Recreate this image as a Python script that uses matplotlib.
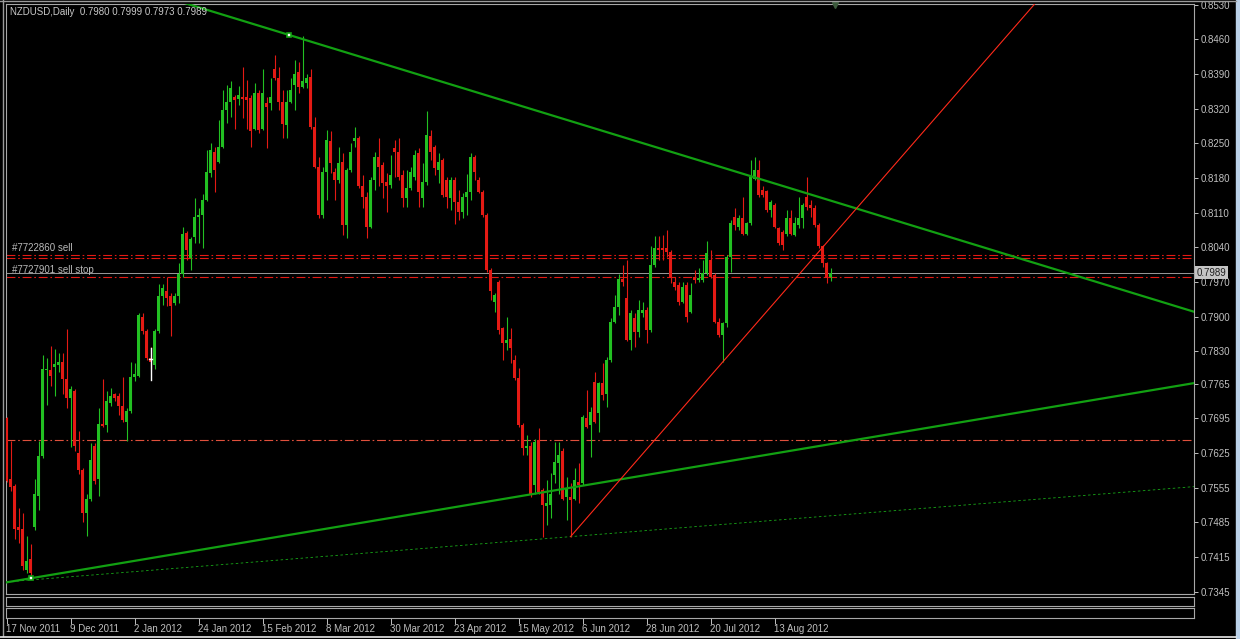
import numpy as np
import matplotlib
matplotlib.use("Agg")
import matplotlib.pyplot as plt
import matplotlib.transforms as mtransforms
from matplotlib.patches import Rectangle
from matplotlib.lines import Line2D

plt.rcParams['font.family'] = ['Liberation Sans', 'DejaVu Sans']

# NZDUSD daily bars, 17 Nov 2011 .. 31 Aug 2012
opens = [
    .7695, .7573, .7559, .7476, .7472, .7388, .7410, .7476, .7538, .7618,
    .7792, .7792, .7799, .7802, .7809, .7775, .7736, .7750, .7625, .7590,
    .7504, .7531, .7639, .7573, .7684, .7681, .7726, .7743, .7740, .7719,
    .7688, .7709, .7778, .7781, .7900, .7872, .7816, .7802, .7872, .7941,
    .7952, .7941, .7928, .7941, .7987, .8070, .8018, .8060, .8101, .8105,
    .8136,
    .8190, .8233, .8213, .8243, .8317, .8334, .8344, .8339, .8344, .8344,
    .8341, .8280, .8351, .8280, .8331, .8331, .8401, .8381, .8334, .8287,
    .8334, .8368, .8395, .8364, .8371, .8385, .8284, .8203, .8105, .8193,
    .8254, .8193, .8176, .8213, .8085, .8196, .8254, .8260, .8163, .8142,
    .8082, .8176, .8223, .8206, .8173, .8166, .8240, .8233, .8186, .8139,
    .8159, .8183,
    .8230, .8139, .8173, .8264, .8243, .8196, .8216, .8176, .8139, .8176,
    .8132, .8112, .8142, .8152, .8223, .8176, .8152, .8105, .7994, .7930,
    .7971, .7877, .7846, .7856, .7813, .7776, .7681, .7634, .7638, .7560,
    .7651, .7550, .7517, .7520, .7580, .7604, .7628, .7537, .7537, .7533,
    .7567, .7564, .7695, .7681, .7769, .7705, .7766, .7745, .7813, .7890,
    .7920,
    .7977, .7937, .7853, .7897, .7870, .7907, .7914, .7873, .8005, .8038,
    .8038, .8038, .8031, .7971, .7964, .7930, .7964, .7910, .7981, .7974,
    .7974, .7988, .8015, .7984, .7890, .7863, .7887, .8021, .8102, .8082,
    .8099, .8068, .8089, .8179, .8196, .8156, .8153, .8116, .8126, .8079,
    .8072, .8068, .8099, .8065, .8085, .8099, .8142, .8126, .8119, .8085,
    .8042, .8008, .7980,
]
highs = [
    .7698, .7649, .7563, .7514, .7504, .7458, .7441, .7573, .7649, .7823,
    .7816, .7841, .7834, .7827, .7827, .7875, .7761, .7754, .7670, .7594,
    .7542, .7646, .7646, .7715, .7775, .7750, .7757, .7747, .7747, .7778,
    .7715, .7809, .7806, .7907, .7907, .7875, .7838, .7875, .7966, .7966,
    .7980, .7948, .7948, .8008, .8081, .8074, .8060, .8140, .8119, .8147,
    .8237,
    .8250, .8243, .8297, .8358, .8368, .8375, .8348, .8365, .8405, .8378,
    .8348, .8371, .8358, .8401, .8344, .8381, .8428, .8405, .8358, .8358,
    .8381, .8418, .8415, .8467, .8391, .8401, .8304, .8223, .8203, .8277,
    .8274, .8200, .8243, .8230, .8200, .8250, .8284, .8264, .8186, .8152,
    .8183, .8233, .8260, .8213, .8190, .8226, .8257, .8260, .8196, .8196,
    .8203, .8237,
    .8240, .8210, .8315, .8277, .8247, .8230, .8220, .8183, .8183, .8183,
    .8156, .8149, .8189, .8230, .8227, .8183, .8156, .8109, .7998, .7947,
    .7974, .7880, .7900, .7877, .7823, .7796, .7685, .7661, .7648, .7654,
    .7675, .7554, .7570, .7584, .7648, .7648, .7634, .7577, .7564, .7594,
    .7604, .7702, .7752, .7718, .7789, .7769, .7806, .7819, .7897, .7944,
    .7987,
    .8004, .8015, .7914, .7907, .7934, .7930, .7920, .8042, .8062, .8062,
    .8065, .8075, .8035, .7981, .7971, .7971, .7971, .7968, .7994, .7998,
    .8015, .8052, .8035, .7988, .7897, .7890, .8025, .8095, .8119, .8105,
    .8142, .8092, .8216, .8223, .8216, .8163, .8156, .8136, .8129, .8082,
    .8075, .8116, .8116, .8102, .8142, .8129, .8183, .8136, .8126, .8089,
    .8045, .8011, .7999,
]
lows = [
    .7566, .7549, .7451, .7444, .7388, .7382, .7371, .7470, .7510, .7615,
    .7722, .7761, .7740, .7789, .7743, .7715, .7636, .7629, .7583, .7486,
    .7458, .7528, .7563, .7538, .7677, .7667, .7719, .7729, .7702, .7688,
    .7649, .7705, .7771, .7778, .7865, .7813, .7794, .7795, .7868, .7924,
    .7921, .7861, .7924, .7928, .7980, .8014, .7994, .8049, .8049, .8039,
    .8133,
    .8183, .8152, .8210, .8240, .8291, .8304, .8280, .8328, .8301, .8280,
    .8243, .8277, .8270, .8277, .8240, .8317, .8378, .8317, .8260, .8260,
    .8331, .8317, .8351, .8361, .8361, .8280, .8200, .8099, .8099, .8136,
    .8190, .8136, .8169, .8065, .8058, .8193, .8243, .8159, .8119, .8058,
    .8079, .8156, .8163, .8139, .8112, .8159, .8183, .8176, .8122, .8122,
    .8156, .8176,
    .8122, .8122, .8166, .8216, .8186, .8169, .8142, .8119, .8115, .8088,
    .8095, .8099, .8105, .8136, .8176, .8149, .8102, .7991, .7934, .7910,
    .7866, .7813, .7833, .7806, .7772, .7678, .7621, .7621, .7537, .7543,
    .7543, .7456, .7480, .7493, .7564, .7543, .7530, .7489, .7456, .7530,
    .7523, .7560, .7675, .7617, .7685, .7668, .7732, .7718, .7809, .7887,
    .7904,
    .7963, .7850, .7833, .7839, .7860, .7900, .7846, .7870, .8001, .8015,
    .8015, .8021, .7968, .7954, .7924, .7927, .7890, .7907, .7968, .7971,
    .7971, .7984, .7978, .7887, .7860, .7809, .7880, .7991, .8075, .8075,
    .8065, .8065, .8085, .8176, .8142, .8142, .8112, .8102, .8079, .8045,
    .8035, .8062, .8065, .8062, .8079, .8079, .8116, .8102, .8082, .8038,
    .8001, .7968, .7973,
]
closes = [
    .7569, .7556, .7472, .7469, .7396, .7406, .7382, .7542, .7618, .7795,
    .7795, .7781, .7804, .7809, .7775, .7736, .7754, .7639, .7590, .7504,
    .7531, .7611, .7569, .7684, .7680, .7729, .7740, .7736, .7719, .7691,
    .7709, .7778, .7785, .7903, .7872, .7816, .7809, .7872, .7941, .7959,
    .7938, .7921, .7941, .7987, .8067, .8035, .8056, .8101, .8105, .8136,
    .8192,
    .8237, .8196, .8243, .8317, .8334, .8361, .8338, .8348, .8339, .8338,
    .8274, .8351, .8277, .8351, .8324, .8344, .8381, .8334, .8290, .8334,
    .8358, .8391, .8364, .8375, .8381, .8284, .8203, .8105, .8193, .8257,
    .8210, .8176, .8210, .8085, .8196, .8233, .8260, .8163, .8142, .8082,
    .8176, .8223, .8203, .8169, .8163, .8186, .8233, .8183, .8139, .8159,
    .8193, .8226,
    .8152, .8173, .8267, .8233, .8200, .8213, .8146, .8142, .8176, .8132,
    .8112, .8142, .8152, .8223, .8193, .8152, .8105, .7994, .7951, .7944,
    .7873, .7846, .7853, .7836, .7776, .7681, .7634, .7638, .7540, .7648,
    .7547, .7520, .7523, .7543, .7607, .7621, .7533, .7554, .7530, .7570,
    .7560, .7698, .7678, .7708, .7688, .7766, .7742, .7813, .7890, .7920,
    .7977,
    .7970, .7853, .7907, .7870, .7914, .7914, .7873, .8005, .8038, .8035,
    .8035, .8031, .7978, .7961, .7930, .7961, .7900, .7944, .7974, .7978,
    .7988, .8028, .7981, .7890, .7863, .7887, .8021, .8089, .8085, .8099,
    .8068, .8089, .8183, .8196, .8146, .8146, .8116, .8132, .8082, .8048,
    .8045, .8099, .8068, .8089, .8099, .8126, .8122, .8119, .8085, .8042,
    .8008, .7978, .7989,
]

# time axis labels (every 16th bar)
date_bars = [0, 16, 32, 48, 64, 80, 96, 112, 128, 144, 160, 176, 192]
date_labels = ['17 Nov 2011', '9 Dec 2011', '2 Jan 2012', '24 Jan 2012',
               '15 Feb 2012', '8 Mar 2012', '30 Mar 2012', '23 Apr 2012',
               '15 May 2012', '6 Jun 2012', '28 Jun 2012', '20 Jul 2012',
               '13 Aug 2012']
price_ticks = [0.8530, 0.8460, 0.8390, 0.8320, 0.8250, 0.8180, 0.8110,
               0.8040, 0.7970, 0.7900, 0.7830, 0.7765, 0.7695, 0.7625,
               0.7555, 0.7485, 0.7415, 0.7345]

# trend lines: (bar, price) anchors
down_x, down_y = [70.6, 296.9], [0.8469, 0.7910]
up_x, up_y = [6.1, 296.9], [0.7372, 0.7766]
dot_x, dot_y = [141, 296.9], [0.7456, 0.7557]
ray_x, ray_y = [141, 257], [0.7456, 0.8531]

# order levels
sell_levels = [0.8025, 0.8019]
sellstop_level = 0.7980
tp_level = 0.7651
bid = 0.7989
header = 'NZDUSD,Daily  0.7980 0.7999 0.7973 0.7989'

GREEN = '#22c022'
RED = '#e41a14'
TREND = '#12a012'
GRAY = '#c0c0c0'

W, H = 1240, 639
fig = plt.figure(figsize=(W / 100, H / 100), dpi=100, facecolor='black')
px = mtransforms.Affine2D().scale(1 / W, -1 / H).translate(0, 1) + fig.transFigure


def box(left, top, right, bottom):
    return [left / W, 1 - bottom / H, (right - left) / W, (bottom - top) / H]


ax = fig.add_axes(box(6, 4, 1194, 594))
ax.set_facecolor('black')
ax.set_xlim(-0.125, 296.875)
ax.set_ylim(0.73402, 0.85314)

# candles
idx = np.arange(len(closes))
o, h, l, c = map(np.array, (opens, highs, lows, closes))
col = np.where(c >= o, GREEN, RED)
ax.vlines(idx, l, h, colors=col, linewidth=0.8, zorder=3)
ax.bar(idx, np.maximum(np.abs(c - o), 0.0002), bottom=np.minimum(o, c),
       width=0.75, color=col, linewidth=0, zorder=3)

xs = np.array([-2, 300])
def extend(x, y):
    k = (y[1] - y[0]) / (x[1] - x[0])
    return y[0] + k * (xs - x[0])

ax.plot(xs, extend(down_x, down_y), color=TREND, lw=1.6, zorder=4)
ax.plot(xs, extend(up_x, up_y), color=TREND, lw=1.6, zorder=4)
xd = np.array([0, 300])
ax.plot(xd, dot_y[0] + (dot_y[1] - dot_y[0]) / (dot_x[1] - dot_x[0]) * (xd - dot_x[0]),
        color='#18a818', lw=0.6, ls=(0, (3, 3)), zorder=4)
xr = np.array([ray_x[0], 300])
ax.plot(xr, ray_y[0] + (ray_y[1] - ray_y[0]) / (ray_x[1] - ray_x[0]) * (xr - ray_x[0]),
        color='#ff2a1a', lw=0.8, zorder=4)
ax.plot([down_x[0], up_x[0]], [down_y[0], up_y[0]], ls='none', marker='s', ms=3.5,
        mfc='white', mec=TREND, mew=1.2, zorder=5)

# order / price lines
dashdot = (0, (8, 2.5, 1.5, 2.5))
for lv in sell_levels:
    ax.axhline(lv, color=RED, lw=0.8, ls=dashdot, zorder=2)
ax.axhline(sellstop_level, color=RED, lw=0.8, ls=dashdot, zorder=2)
ax.axhline(tp_level, color='#e0503c', lw=0.8, ls=dashdot, zorder=2)
ax.axhline(bid, color='#9a9a9a', lw=0.7, zorder=2)
ax.text(1.3, sell_levels[0] + 0.0004, '#7722860 sell', color='#b8b8b8', fontsize=7,
        va='bottom', ha='left', zorder=6)
ax.text(1.3, sellstop_level + 0.0004, '#7727901 sell stop', color='#b8b8b8',
        fontsize=7, va='bottom', ha='left', zorder=6)

# mouse cursor left on the chart
ax.plot([36, 36], [0.7772, 0.7837], color='white', lw=1.0, zorder=6)
ax.plot([35.6, 36.4], [0.7815, 0.7815], color='white', lw=1.0, zorder=6)

# chart shift marker
ax.plot([len(closes) + 0.1], [ax.get_ylim()[1] - 0.0002], marker='v', ms=5,
        color='#3c5a3c', clip_on=False, zorder=6)

ax.set_xticks([])
ax.yaxis.tick_right()
ax.set_yticks(price_ticks)
ax.set_yticklabels(['%.4f' % t for t in price_ticks])
ax.tick_params(axis='y', colors=GRAY, length=3, width=0.7, labelsize=7, pad=2)
for sp in ax.spines.values():
    sp.set_color('#a8a8a8')
    sp.set_linewidth(0.8)

blend = mtransforms.blended_transform_factory(ax.transAxes, ax.transData)
ax.text(1 + 3 / 1188, bid, '%.4f' % bid, transform=blend, fontsize=7, color='#202020',
        va='center', ha='left', clip_on=False, zorder=10,
        bbox=dict(facecolor='#c4c4c4', edgecolor='none', pad=1.2))

# empty indicator sub-windows
for top, bottom in [(596.5, 606), (608, 617.5)]:
    sub = fig.add_axes(box(6, top, 1194, bottom))
    sub.set_facecolor('black')
    sub.set_xlim(ax.get_xlim())
    sub.set_yticks([])
    sub.set_xticks([])
    for sp in sub.spines.values():
        sp.set_color('#a8a8a8')
        sp.set_linewidth(0.8)

sub.set_xticks(date_bars)
sub.set_xticklabels(date_labels)
sub.tick_params(axis='x', colors=GRAY, length=4, width=0.7, labelsize=7, pad=1,
                direction='out')
for lbl in sub.get_xticklabels():
    lbl.set_horizontalalignment('left')

fig.text(10 / W, 1 - 12 / H, header, color='#c8c8c8', fontsize=7, va='center', ha='left')

# window frame
fig.add_artist(Line2D([2.5, 2.5], [0, 636], color='#9a9a9a', lw=1.0, transform=px))
fig.add_artist(Line2D([0, 1236], [1, 1], color='#9a9a9a', lw=1.0, transform=px))
fig.add_artist(Line2D([0, 1236], [636.5, 636.5], color='#e8e8e8', lw=1.2, transform=px))
fig.add_artist(Rectangle((1236, 0), 4, 639, color='#bcd2ea', transform=px))

fig.savefig('out.png', dpi=100, facecolor='black')
